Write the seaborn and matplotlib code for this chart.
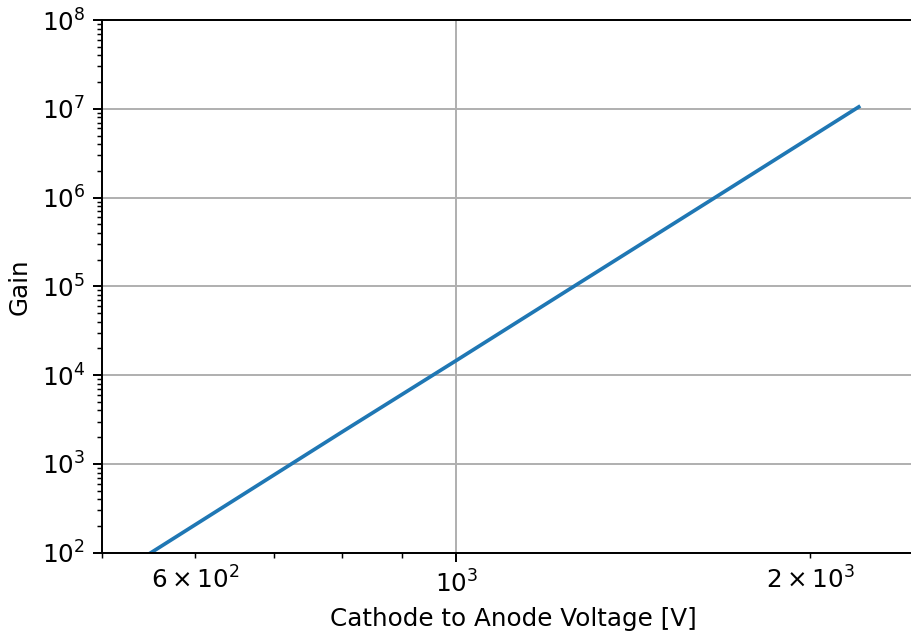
import matplotlib
matplotlib.use("Agg")
import matplotlib.pyplot as plt
import seaborn as sns
import pandas as pd

# PMT gain versus cathode-to-anode voltage
voltage = [550, 800, 1000, 1250, 1650, 2200]
gain = [1.0e2, 2.3e3, 1.46e4, 9.4e4, 9.5e5, 1.05e7]

df = pd.DataFrame({"voltage": voltage, "gain": gain})

plt.rcParams["font.family"] = ["DejaVu Sans"]
plt.rcParams["font.size"] = 10

DPI = 177
W, H = 912, 632
fig = plt.figure(figsize=(W / DPI, H / DPI), dpi=DPI)
left, right, bottom, top = 102.3, 924.0, 552.7, 20.0
ax = fig.add_axes([left / W, (H - bottom) / H, (right - left) / W, (bottom - top) / H])

sns.lineplot(data=df, x="voltage", y="gain", ax=ax, color="#1f77b4", linewidth=1.5)

ax.set_xscale("log")
ax.set_yscale("log")
ax.set_xlim(500, 2500)
ax.set_ylim(1e2, 1e8)
ax.grid(True, which="major", color="#b0b0b0", linewidth=0.8)
ax.set_axisbelow(True)
ax.set_xlabel("Cathode to Anode Voltage [V]")
ax.set_ylabel("Gain")

fig.savefig("out.png", dpi=DPI)
